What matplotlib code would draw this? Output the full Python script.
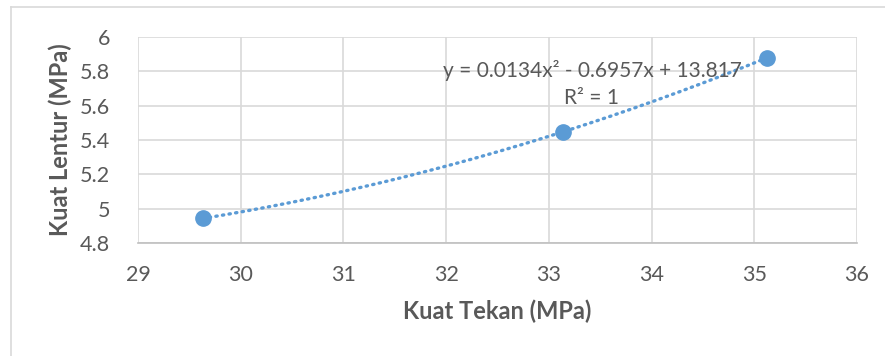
import numpy as np
import matplotlib
matplotlib.use("Agg")
import matplotlib.pyplot as plt
from matplotlib.lines import Line2D

plt.rcParams['font.family'] = ['Lato', 'DejaVu Sans']

kuat_tekan = [29.63, 33.14, 35.12]
kuat_lentur = [4.943, 5.448, 5.878]
x_ticks = [29, 30, 31, 32, 33, 34, 35, 36]
y_ticks = [4.8, 5.0, 5.2, 5.4, 5.6, 5.8, 6.0]
y_tick_labels = ["4.8", "5", "5.2", "5.4", "5.6", "5.8", "6"]
equation = "y = 0.0134x² - 0.6957x + 13.817"
r2_text = "R² = 1"

blue = "#5B9BD5"
grid = "#D9D9D9"
txt = "#595959"

fig = plt.figure(figsize=(8.85, 3.56), dpi=100)
ax = fig.add_axes([138/885, 1-243/356, (857-138)/885, (243-37)/356])

# chart border (top and left visible)
fig.add_artist(Line2D([11/885, 1.0], [1-7/356, 1-7/356], color=grid, lw=1.2, transform=fig.transFigure))
fig.add_artist(Line2D([11/885, 11/885], [0, 1-7/356], color=grid, lw=1.2, transform=fig.transFigure))

coef = np.polyfit(kuat_tekan, kuat_lentur, 2)
xs = np.linspace(min(kuat_tekan), max(kuat_tekan), 200)
ax.plot(xs, np.polyval(coef, xs), color=blue, lw=2.4, linestyle=(0, (0.4, 1.6)),
        dash_capstyle='round', zorder=2)
ax.plot(kuat_tekan, kuat_lentur, 'o', color=blue, markersize=11, zorder=3)

ax.set_xlim(29, 36)
ax.set_ylim(4.8, 6.0)
ax.set_xticks(x_ticks)
ax.set_yticks(y_ticks)
ax.set_yticklabels(y_tick_labels)
ax.grid(True, color=grid, lw=1.2)
ax.set_axisbelow(True)
for s in ax.spines.values():
    s.set_visible(False)
ax.spines['bottom'].set_visible(True)
ax.spines['bottom'].set_color("#BFBFBF")
ax.spines['bottom'].set_linewidth(1.2)
ax.tick_params(length=0, labelsize=15.5, labelcolor=txt)
ax.tick_params(axis='x', pad=16)
ax.tick_params(axis='y', pad=20)

ax.set_xlabel("Kuat Tekan (MPa)", fontsize=17, fontweight='bold', color=txt, labelpad=10)
ax.set_ylabel("Kuat Lentur (MPa)", fontsize=17, fontweight='bold', color=txt, labelpad=6)

ax.text(33.42, 5.805, equation, fontsize=15, color=txt, ha='center', va='center')
ax.text(33.42, 5.645, r2_text, fontsize=15, color=txt, ha='center', va='center')

fig.savefig("out.png", dpi=100)
